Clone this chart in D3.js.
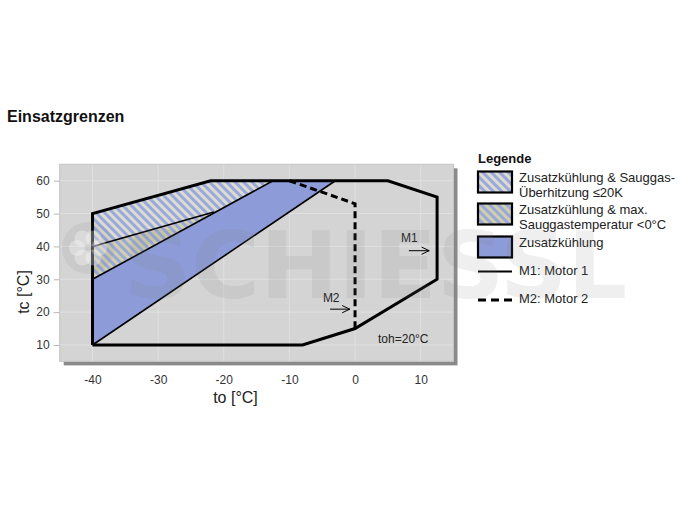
<!DOCTYPE html>
<html>
<head>
<meta charset="utf-8">
<script src="https://cdn.jsdelivr.net/npm/d3@7"></script>
<style>
  html, body { margin: 0; padding: 0; background: #fff; }
  svg { display: block; font-family: "Liberation Sans", Arial, sans-serif; }
</style>
</head>
<body>
<svg id="chart" width="685" height="514"></svg>
<script>
// Operating envelope (to = evaporating temp, tc = condensing temp), points as [to, tc]
const envelopeM1 = [[-40, 10], [-40, 50], [-22, 60], [5, 60], [12.5, 55], [12.5, 30], [0, 15], [-8, 10], [-40, 10]];
const envelopeM2 = [[-10, 60], [0, 53], [0, 15]];
const zoneCooling = [[-40, 10], [-40, 30], [-12.5, 60], [-3, 60]];
const zoneSuperheat = [[-40, 40], [-40, 50], [-22, 60], [-12.5, 60], [-21.5, 50.5]];
const zoneSuctionTemp = [[-40, 30], [-40, 40], [-21.5, 50.5]];
const dividers = [
  [[-40, 40], [-21.5, 50.5]],
  [[-40, 30], [-12.5, 60]],
  [[-40, 10], [-3, 60]]
];
const xTicks = [-40, -30, -20, -10, 0, 10];
const yTicks = [10, 20, 30, 40, 50, 60];
const legendItems = [
  { kind: "superheat", lines: ["Zusatzkühlung & Sauggas-", "Überhitzung ≤20K"] },
  { kind: "suction", lines: ["Zusatzkühlung & max.", "Sauggastemperatur <0°C"] },
  { kind: "cooling", lines: ["Zusatzkühlung"] },
  { kind: "m1", lines: ["M1: Motor 1"] },
  { kind: "m2", lines: ["M2: Motor 2"] }
];

const svg = d3.select("#chart");
const x = d3.scaleLinear().domain([-45, 15]).range([59.7, 453.5]);
const y = d3.scaleLinear().domain([5, 65]).range([361.4, 164.3]);
const line = d3.line().x(d => x(d[0])).y(d => y(d[1]));

// hatch patterns
const defs = svg.append("defs");
function hatch(id, bg, stripe) {
  const p = defs.append("pattern").attr("id", id)
    .attr("patternUnits", "userSpaceOnUse").attr("width", 6).attr("height", 6)
    .attr("patternTransform", "rotate(-45)");
  p.append("rect").attr("width", 6).attr("height", 6).attr("fill", bg);
  p.append("rect").attr("width", 3).attr("height", 6).attr("fill", stripe);
}
hatch("hatchSuperheat", "#dcdcd2", "#9aa8da");
hatch("hatchSuction", "#d0d0ac", "#9aa8da");
const fills = { superheat: "url(#hatchSuperheat)", suction: "url(#hatchSuction)", cooling: "#8d9cd8" };

// title
svg.append("text").attr("x", 7).attr("y", 122).attr("font-size", 16).attr("font-weight", "bold")
  .attr("fill", "#111").text("Einsatzgrenzen");

// plot panel with drop shadow
const [x0, x1] = x.range();
const [y0, y1] = [y(65), y(5)];
svg.append("rect").attr("x", x0 + 4).attr("y", y0 + 4).attr("width", x1 - x0).attr("height", y1 - y0).attr("fill", "#8a8a8a");
svg.append("rect").attr("x", x0).attr("y", y0).attr("width", x1 - x0).attr("height", y1 - y0)
  .attr("fill", "#d4d4d4").attr("stroke", "#c4c4c4").attr("stroke-width", 1);

// gridlines
const grid = svg.append("g").attr("stroke", "#e0e0e0").attr("stroke-width", 1);
xTicks.forEach(t => grid.append("line").attr("x1", x(t)).attr("x2", x(t)).attr("y1", y0 + 0.5).attr("y2", y1 - 0.5));
yTicks.forEach(t => grid.append("line").attr("x1", x0 + 0.5).attr("x2", x1 - 0.5).attr("y1", y(t)).attr("y2", y(t)));

// axes
const fmt = d => String(d);
const yAxis = svg.append("g").attr("transform", `translate(${x0},0)`)
  .call(d3.axisLeft(y).tickValues(yTicks).tickFormat(fmt).tickSize(6).tickPadding(4));
const xAxis = svg.append("g").attr("transform", `translate(0,${y1 + 10})`)
  .call(d3.axisBottom(x).tickValues(xTicks).tickFormat(fmt).tickSize(0).tickPadding(4));
[yAxis, xAxis].forEach(a => {
  a.select(".domain").remove();
  a.selectAll(".tick line").attr("stroke", "#b8b8b8");
  a.selectAll(".tick text").attr("font-size", 12).attr("fill", "#333")
    .attr("font-family", "'Liberation Sans', Arial, sans-serif");
});

svg.append("text").attr("x", 235.5).attr("y", 403).attr("text-anchor", "middle")
  .attr("font-size", 16).attr("fill", "#222").text("to [°C]");
svg.append("text").attr("transform", "translate(29,292) rotate(-90)").attr("text-anchor", "middle")
  .attr("font-size", 16).attr("fill", "#222").text("tc [°C]");

// zones
const zones = svg.append("g");
zones.append("path").datum(zoneCooling).attr("d", line).attr("fill", fills.cooling);
zones.append("path").datum(zoneSuperheat).attr("d", line).attr("fill", fills.superheat);
zones.append("path").datum(zoneSuctionTemp).attr("d", line).attr("fill", fills.suction);

// zone dividers
dividers.forEach(seg => svg.append("path").datum(seg).attr("d", line)
  .attr("fill", "none").attr("stroke", "#000").attr("stroke-width", 1.6));

// envelopes
svg.append("path").datum(envelopeM2).attr("d", line).attr("fill", "none")
  .attr("stroke", "#000").attr("stroke-width", 3).attr("stroke-dasharray", "7,4");
svg.append("path").datum(envelopeM1).attr("d", line).attr("fill", "none")
  .attr("stroke", "#000").attr("stroke-width", 3).attr("stroke-linejoin", "miter");

// annotations
defs.append("marker").attr("id", "arrow").attr("viewBox", "0 0 10 10").attr("refX", 9.5).attr("refY", 5)
  .attr("markerWidth", 9).attr("markerHeight", 9).attr("markerUnits", "userSpaceOnUse").attr("orient", "auto")
  .append("path").attr("d", "M1,1 L9.5,5 L1,9").attr("fill", "none").attr("stroke", "#000").attr("stroke-width", 1.1);
function arrow(a, b) {
  svg.append("line").attr("x1", x(a[0])).attr("y1", y(a[1])).attr("x2", x(b[0])).attr("y2", y(b[1]))
    .attr("stroke", "#000").attr("stroke-width", 1).attr("marker-end", "url(#arrow)");
}
svg.append("text").attr("x", x(7)).attr("y", y(41.3)).attr("font-size", 12).attr("fill", "#222").text("M1");
arrow([8.2, 38.7], [11.3, 38.7]);
svg.append("text").attr("x", x(-4.9)).attr("y", y(23.2)).attr("font-size", 12).attr("fill", "#222").text("M2");
arrow([-3.8, 20.9], [-0.8, 20.9]);
svg.append("text").attr("x", x(3.5)).attr("y", y(10.5)).attr("font-size", 12).attr("fill", "#222").text("toh=20°C");

// legend
const lg = svg.append("g").attr("transform", "translate(478,0)");
lg.append("text").attr("x", 0).attr("y", 163).attr("font-size", 13).attr("font-weight", "bold").attr("fill", "#111").text("Legende");
const rowTop = [171.5, 203.5, 236.5, 271.5, 300];
legendItems.forEach((it, i) => {
  const t = rowTop[i];
  if (fills[it.kind]) {
    lg.append("rect").attr("x", 0).attr("y", t).attr("width", 34).attr("height", 21)
      .attr("fill", fills[it.kind]).attr("stroke", "#000").attr("stroke-width", 2.2);
    it.lines.forEach((s, j) => lg.append("text").attr("x", 41).attr("y", t + 10 + j * 15)
      .attr("font-size", 13).attr("fill", "#222").text(s));
  } else {
    lg.append("line").attr("x1", 0).attr("x2", 34).attr("y1", t).attr("y2", t).attr("stroke", "#000")
      .attr("stroke-width", it.kind === "m2" ? 3 : 2).attr("stroke-dasharray", it.kind === "m2" ? "8,5" : null);
    lg.append("text").attr("x", 41).attr("y", t + 3).attr("font-size", 13).attr("fill", "#222").text(it.lines[0]);
  }
});

// faint brand watermark across the figure
const wm = svg.append("g").attr("pointer-events", "none");
wm.append("circle").attr("cx", 88).attr("cy", 248).attr("r", 26).attr("fill", "rgba(120,120,120,0.10)");
d3.range(6).forEach(k => {
  const a = k * Math.PI / 3;
  wm.append("circle").attr("cx", 88 + 11 * Math.cos(a)).attr("cy", 248 + 11 * Math.sin(a)).attr("r", 8)
    .attr("fill", "rgba(255,255,255,0.30)");
});
wm.append("text").attr("x", 124).attr("y", 298).attr("font-size", 92).attr("font-weight", "bold")
  .attr("font-family", "'DejaVu Sans', sans-serif")
  .attr("textLength", 503).attr("lengthAdjust", "spacingAndGlyphs")
  .attr("fill", "rgba(120,120,120,0.12)").text("SCHIESSL");
</script>
</body>
</html>
